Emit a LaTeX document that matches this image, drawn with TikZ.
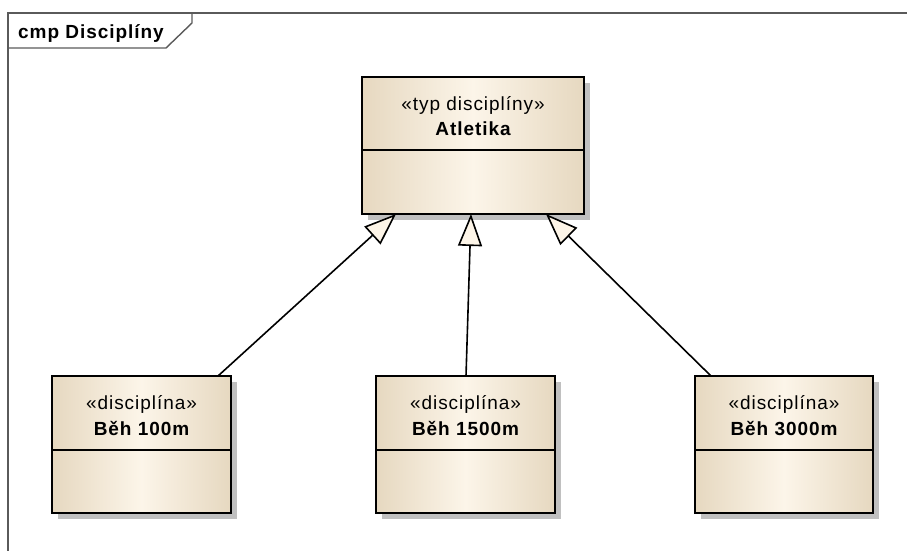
\documentclass[tikz,border=0pt]{standalone}
\usepackage{fontspec}
\setmainfont{Liberation Sans}
\newfontfamily\diafont[LetterSpace=5]{Liberation Sans}
\usetikzlibrary{arrows.meta,shadows,calc}
\definecolor{boxedge}{RGB}{230,216,192}
\definecolor{boxmid}{RGB}{252,245,233}
\definecolor{tipfill}{RGB}{253,245,232}
\definecolor{framegray}{RGB}{90,90,90}
\definecolor{shadowgray}{RGB}{192,192,192}
\begin{document}
\begin{tikzpicture}[x=1pt,y=-1pt,
  classbox/.style={draw=black, line width=2pt, left color=boxedge, right color=boxedge,
    middle color=boxmid, anchor=north west, inner sep=0pt, outer sep=0pt,
    drop shadow={shadow xshift=6pt, shadow yshift=-6pt, fill=shadowgray, opacity=1}},
  divider/.style={draw=black, line width=1.6pt},
  stereo/.style={anchor=base, inner sep=0pt, font=\diafont\fontsize{19}{22}\selectfont},
  cname/.style={anchor=base, inner sep=0pt, font=\diafont\fontsize{19}{22}\selectfont\bfseries},
  frameline/.style={draw=framegray, line width=1.4pt},
  gen/.style={draw=black, line width=1.6pt,
    -{Triangle[length=32pt, width=24pt, fill=tipfill, line width=1.6pt]}}
]
\useasboundingbox (0,0) rectangle (907,551);

% diagram frame with its name tab
\draw[frameline] (8,551) -- (8,13) -- (907,13);
\draw[frameline] (192,13) -- (192,23) -- (166,48) -- (8,48);
\node[anchor=base west, inner sep=0pt, font=\diafont\fontsize{19}{22}\selectfont\bfseries]
  (hdr) at (18,38) {cmp Disciplíny};

% general class
\node[classbox, minimum width=222, minimum height=137] (top) at (362,77) {};
\draw[divider] ($(top.north west)+(0,73)$) -- ($(top.north east)+(0,73)$);
\node[stereo] (topst) at ($(top.north)+(0,33)$) {«typ disciplíny»};
\node[cname] (topnm) at ($(top.north)+(0,58)$) {Atletika};

% specialised classes
\node[classbox, minimum width=179, minimum height=137] (b1) at (52,376) {};
\node[classbox, minimum width=179, minimum height=137] (b2) at (376,376) {};
\node[classbox, minimum width=178, minimum height=137] (b3) at (695,376) {};
\foreach \b/\t in {b1/Běh 100m, b2/Běh 1500m, b3/Běh 3000m}{
  \draw[divider] ($(\b.north west)+(0,74)$) -- ($(\b.north east)+(0,74)$);
  \node[stereo] (\b st) at ($(\b.north)+(0,33)$) {«disciplína»};
  \node[cname] (\b nm) at ($(\b.north)+(0,59)$) {\t};
}

% generalisation connectors
\draw[gen] ($(b1.north west)+(166,0)$) -- ($(top.south west)+(34,0)$);
\draw[gen] ($(b2.north west)+(90,0)$) -- ($(top.south west)+(109,0)$);
\draw[gen] ($(b3.north west)+(16,0)$) -- ($(top.south west)+(184,0)$);
\end{tikzpicture}
\end{document}
